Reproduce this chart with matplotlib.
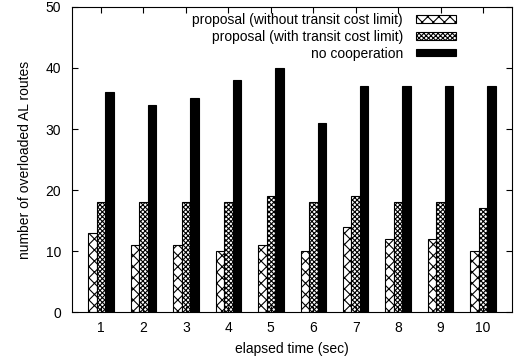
import numpy as np
import matplotlib
matplotlib.use('Agg')
import matplotlib.pyplot as plt

plt.rcParams['font.family'] = ['Liberation Sans', 'DejaVu Sans']
plt.rcParams['hatch.linewidth'] = 0.8

times = [1, 2, 3, 4, 5, 6, 7, 8, 9, 10]
without_limit = [13, 11, 11, 10, 11, 10, 14, 12, 12, 10]
with_limit = [18, 18, 18, 18, 19, 18, 19, 18, 18, 17]
no_coop = [36, 34, 35, 38, 40, 31, 37, 37, 37, 37]

labels = ['proposal (without transit cost limit)',
          'proposal (with transit cost limit)',
          'no cooperation']

fs = 10

fig = plt.figure(figsize=(5.21, 3.61), dpi=100)
ax = fig.add_axes([0.139, 0.135, 0.843, 0.846])

x = np.array(times)
w = 0.2
ax.bar(x - w, without_limit, w, facecolor='white', edgecolor='black',
       hatch='xxx', linewidth=0.8, label=labels[0])
ax.bar(x, with_limit, w, facecolor='white', edgecolor='black',
       hatch='xxxxxxx', linewidth=0.8, label=labels[1])
ax.bar(x + w, no_coop, w, facecolor='black', edgecolor='black',
       linewidth=0.8, label=labels[2])

ax.set_xlim(0.33, 10.67)
ax.set_ylim(0, 50)
ax.set_xticks(times)
ax.set_yticks([0, 10, 20, 30, 40, 50])
ax.tick_params(direction='in', top=True, right=True, labelsize=fs, length=4)
ax.tick_params(axis='x', pad=6)
ax.tick_params(axis='y', pad=8)
for s in ax.spines.values():
    s.set_linewidth(0.8)

ax.set_xlabel('elapsed time (sec)', fontsize=fs, labelpad=5)
ax.set_ylabel('number of overloaded AL routes', fontsize=fs, labelpad=10)

leg = ax.legend(loc='upper right', bbox_to_anchor=(0.873, 0.98), frameon=False,
                markerfirst=False, fontsize=fs, handlelength=2.9,
                handleheight=0.45, labelspacing=0.2, borderaxespad=0,
                borderpad=0, handletextpad=0.9)
for t in leg.get_texts():
    t.set_ha('right')

fig.savefig('out.png', dpi=100)
